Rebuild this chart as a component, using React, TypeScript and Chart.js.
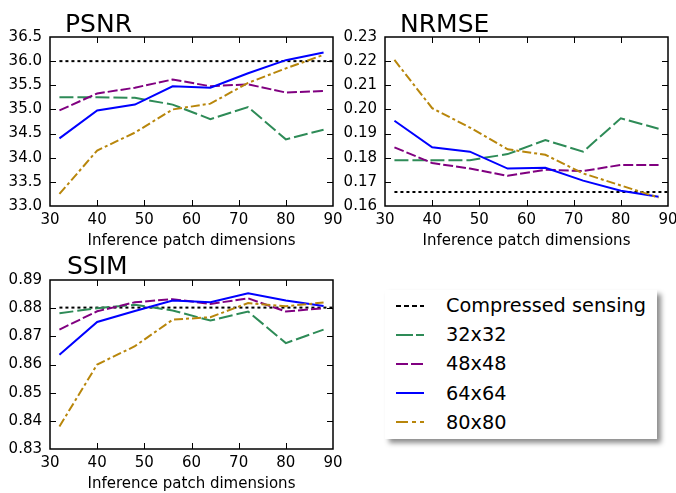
import React, { useEffect, useRef } from "react";
import { Chart, registerables } from "chart.js";

Chart.register(...registerables);

const FONT = "'DejaVu Sans', 'Liberation Sans', sans-serif";

// ---- data ----
const xValues = [32, 40, 48, 56, 64, 72, 80, 88];
const csXRange = [32, 90];
const seriesNames = ["32x32", "48x48", "64x64", "80x80"];
const csName = "Compressed sensing";

const psnr32 = [35.25, 35.25, 35.24, 35.1, 34.8, 35.05, 34.38, 34.58];
const psnr48 = [34.98, 35.33, 35.45, 35.62, 35.48, 35.52, 35.35, 35.38];
const psnr64 = [34.4, 34.98, 35.1, 35.48, 35.45, 35.75, 36.02, 36.18];
const psnr80 = [33.25, 34.15, 34.52, 35.0, 35.12, 35.55, 35.85, 36.13];
const psnrCS = 36.0;

const nrmse32 = [0.179, 0.179, 0.179, 0.1815, 0.1873, 0.1825, 0.1963, 0.192];
const nrmse48 = [0.1843, 0.1778, 0.1755, 0.1725, 0.175, 0.1745, 0.177, 0.177];
const nrmse64 = [0.1953, 0.1843, 0.1825, 0.1755, 0.1758, 0.1705, 0.1663, 0.1638];
const nrmse80 = [0.2205, 0.2005, 0.1925, 0.1835, 0.1812, 0.1735, 0.1685, 0.1635];
const nrmseCS = 0.1658;

const ssim32 = [0.8782, 0.88, 0.8812, 0.8792, 0.8756, 0.8788, 0.8676, 0.8724];
const ssim48 = [0.8724, 0.8789, 0.8821, 0.8832, 0.8815, 0.8835, 0.8788, 0.88];
const ssim64 = [0.8635, 0.8751, 0.879, 0.8827, 0.8821, 0.8853, 0.8827, 0.8808];
const ssim80 = [0.838, 0.86, 0.8665, 0.8759, 0.8768, 0.8818, 0.8807, 0.882];
const ssimCS = 0.8802;

const xTickMin = 30;
const xTickMax = 90;
const xTickStep = 10;
const xLabel = "Inference patch dimensions";

// ---- styles ----
const seriesColors = ["#2e8b57", "#800080", "#0000ff", "#b8860b"];
const seriesDash = [[14, 4], [10, 3], [], [9, 3, 3, 3]];
const csDash = [3, 3];
const legendSeriesDash = ["17 3", "12 3", "", "12 4 4 4"];

const framePlugin = {
  id: "mplFrame",
  afterDatasetsDraw(chart: any) {
    const { ctx, chartArea: a, scales } = chart;
    const tl = 6;
    ctx.save();
    ctx.strokeStyle = "#000";
    ctx.lineWidth = 1;
    ctx.beginPath();
    scales.x.ticks.forEach((t: any) => {
      const px = Math.round(scales.x.getPixelForValue(t.value)) + 0.5;
      if (px <= a.left + 1 || px >= a.right - 1) return;
      ctx.moveTo(px, a.bottom);
      ctx.lineTo(px, a.bottom - tl);
      ctx.moveTo(px, a.top);
      ctx.lineTo(px, a.top + tl);
    });
    scales.y.ticks.forEach((t: any) => {
      const py = Math.round(scales.y.getPixelForValue(t.value)) + 0.5;
      if (py <= a.top + 1 || py >= a.bottom - 1) return;
      ctx.moveTo(a.left, py);
      ctx.lineTo(a.left + tl, py);
      ctx.moveTo(a.right, py);
      ctx.lineTo(a.right - tl, py);
    });
    ctx.stroke();
    ctx.lineWidth = 1.5;
    ctx.strokeRect(a.left, a.top, a.right - a.left, a.bottom - a.top);
    ctx.restore();
  },
};

type PanelProps = {
  left: number;
  top: number;
  width: number;
  height: number;
  padTop: number;
  padRight: number;
  yAxisWidth: number;
  xAxisHeight: number;
  yMin: number;
  yMax: number;
  yStep: number;
  decimals: number;
  series: number[][];
  cs: number;
};

function Panel(p: PanelProps) {
  const ref = useRef<HTMLCanvasElement | null>(null);
  useEffect(() => {
    if (!ref.current) return;
    const datasets: any[] = [];
    datasets.push({
      label: csName,
      data: csXRange.map((x) => ({ x, y: p.cs })),
      borderColor: "#000",
      borderWidth: 2,
      borderDash: csDash,
      pointRadius: 0,
      fill: false,
      order: 10,
    });
    p.series.forEach((vals, i) => {
      datasets.push({
        label: seriesNames[i],
        data: xValues.map((x, j) => ({ x, y: vals[j] })),
        borderColor: seriesColors[i],
        borderWidth: 2,
        borderDash: seriesDash[i],
        pointRadius: 0,
        tension: 0,
        fill: false,
        order: 9 - i,
      });
    });
    const chart = new Chart(ref.current, {
      type: "line",
      data: { datasets },
      options: {
        animation: false,
        responsive: false,
        layout: { padding: { top: p.padTop, right: p.padRight, left: 0, bottom: 0 } },
        plugins: { legend: { display: false }, title: { display: false }, tooltip: { enabled: false } },
        scales: {
          x: {
            type: "linear",
            min: xTickMin,
            max: xTickMax,
            grid: { display: false, drawTicks: false },
            border: { display: false },
            ticks: {
              stepSize: xTickStep,
              padding: 5,
              color: "#000",
              font: { family: FONT, size: 15 },
              maxRotation: 0,
            },
            title: {
              display: true,
              text: xLabel,
              color: "#000",
              font: { family: FONT, size: 15 },
              padding: { top: 0, bottom: 0 },
            },
            afterFit: (s: any) => {
              s.height = p.xAxisHeight;
              s.paddingLeft = 0;
              s.paddingRight = 0;
            },
          },
          y: {
            type: "linear",
            min: p.yMin,
            max: p.yMax,
            grid: { display: false, drawTicks: false },
            border: { display: false },
            ticks: {
              stepSize: p.yStep,
              padding: 8,
              color: "#000",
              font: { family: FONT, size: 15 },
              callback: (v: any) => Number(v).toFixed(p.decimals),
            },
            afterFit: (s: any) => {
              s.width = p.yAxisWidth;
              s.paddingTop = 0;
              s.paddingBottom = 0;
            },
          },
        },
      } as any,
      plugins: [framePlugin],
    });
    return () => chart.destroy();
  }, []);
  return (
    <div style={{ position: "absolute", left: p.left, top: p.top, width: p.width, height: p.height }}>
      <canvas ref={ref} width={p.width} height={p.height} style={{ display: "block" }} />
    </div>
  );
}

function Title({ text, left, top }: { text: string; left: number; top: number }) {
  return (
    <div
      style={{
        position: "absolute",
        left,
        top,
        fontFamily: FONT,
        fontSize: 25,
        lineHeight: "25px",
        color: "#000",
        whiteSpace: "nowrap",
      }}
    >
      {text}
    </div>
  );
}

function LegendBox() {
  const rows = [
    { name: csName, color: "#000", dash: "5 3" },
    ...seriesNames.map((n, i) => ({ name: n, color: seriesColors[i], dash: legendSeriesDash[i] })),
  ];
  return (
    <div
      style={{
        position: "absolute",
        left: 385,
        top: 290,
        width: 272,
        height: 149,
        background: "#fff",
        boxShadow: "4px 4px 5px rgba(0,0,0,0.45)",
      }}
    >
      {rows.map((r, i) => (
        <div
          key={r.name}
          style={{
            position: "absolute",
            left: 0,
            top: 1 + i * 29.2,
            height: 29,
            display: "flex",
            alignItems: "center",
          }}
        >
          <svg width={30} height={10} style={{ marginLeft: 11, display: "block" }}>
            <line x1={0} y1={5} x2={28} y2={5} stroke={r.color} strokeWidth={2} strokeDasharray={r.dash || undefined} />
          </svg>
          <span
            style={{
              marginLeft: 20,
              fontFamily: FONT,
              fontSize: 19.3,
              lineHeight: "29px",
              color: "#000",
              whiteSpace: "nowrap",
            }}
          >
            {r.name}
          </span>
        </div>
      ))}
    </div>
  );
}

export default function App() {
  return (
    <div style={{ position: "absolute", left: 0, top: 0, width: 676, height: 493, background: "#fff", overflow: "hidden" }}>
      <Panel
        left={0}
        top={0}
        width={350}
        height={250}
        padTop={37}
        padRight={17}
        yAxisWidth={50}
        xAxisHeight={44}
        yMin={33.0}
        yMax={36.5}
        yStep={0.5}
        decimals={1}
        series={[psnr32, psnr48, psnr64, psnr80]}
        cs={psnrCS}
      />
      <Panel
        left={340}
        top={0}
        width={336}
        height={250}
        padTop={37}
        padRight={8}
        yAxisWidth={45}
        xAxisHeight={44}
        yMin={0.16}
        yMax={0.23}
        yStep={0.01}
        decimals={2}
        series={[nrmse32, nrmse48, nrmse64, nrmse80]}
        cs={nrmseCS}
      />
      <Panel
        left={0}
        top={245}
        width={350}
        height={248}
        padTop={35}
        padRight={17}
        yAxisWidth={50}
        xAxisHeight={44}
        yMin={0.83}
        yMax={0.89}
        yStep={0.01}
        decimals={2}
        series={[ssim32, ssim48, ssim64, ssim80]}
        cs={ssimCS}
      />
      <Title text="PSNR" left={65} top={11} />
      <Title text="NRMSE" left={400} top={11} />
      <Title text="SSIM" left={67} top={253} />
      <LegendBox />
    </div>
  );
}
